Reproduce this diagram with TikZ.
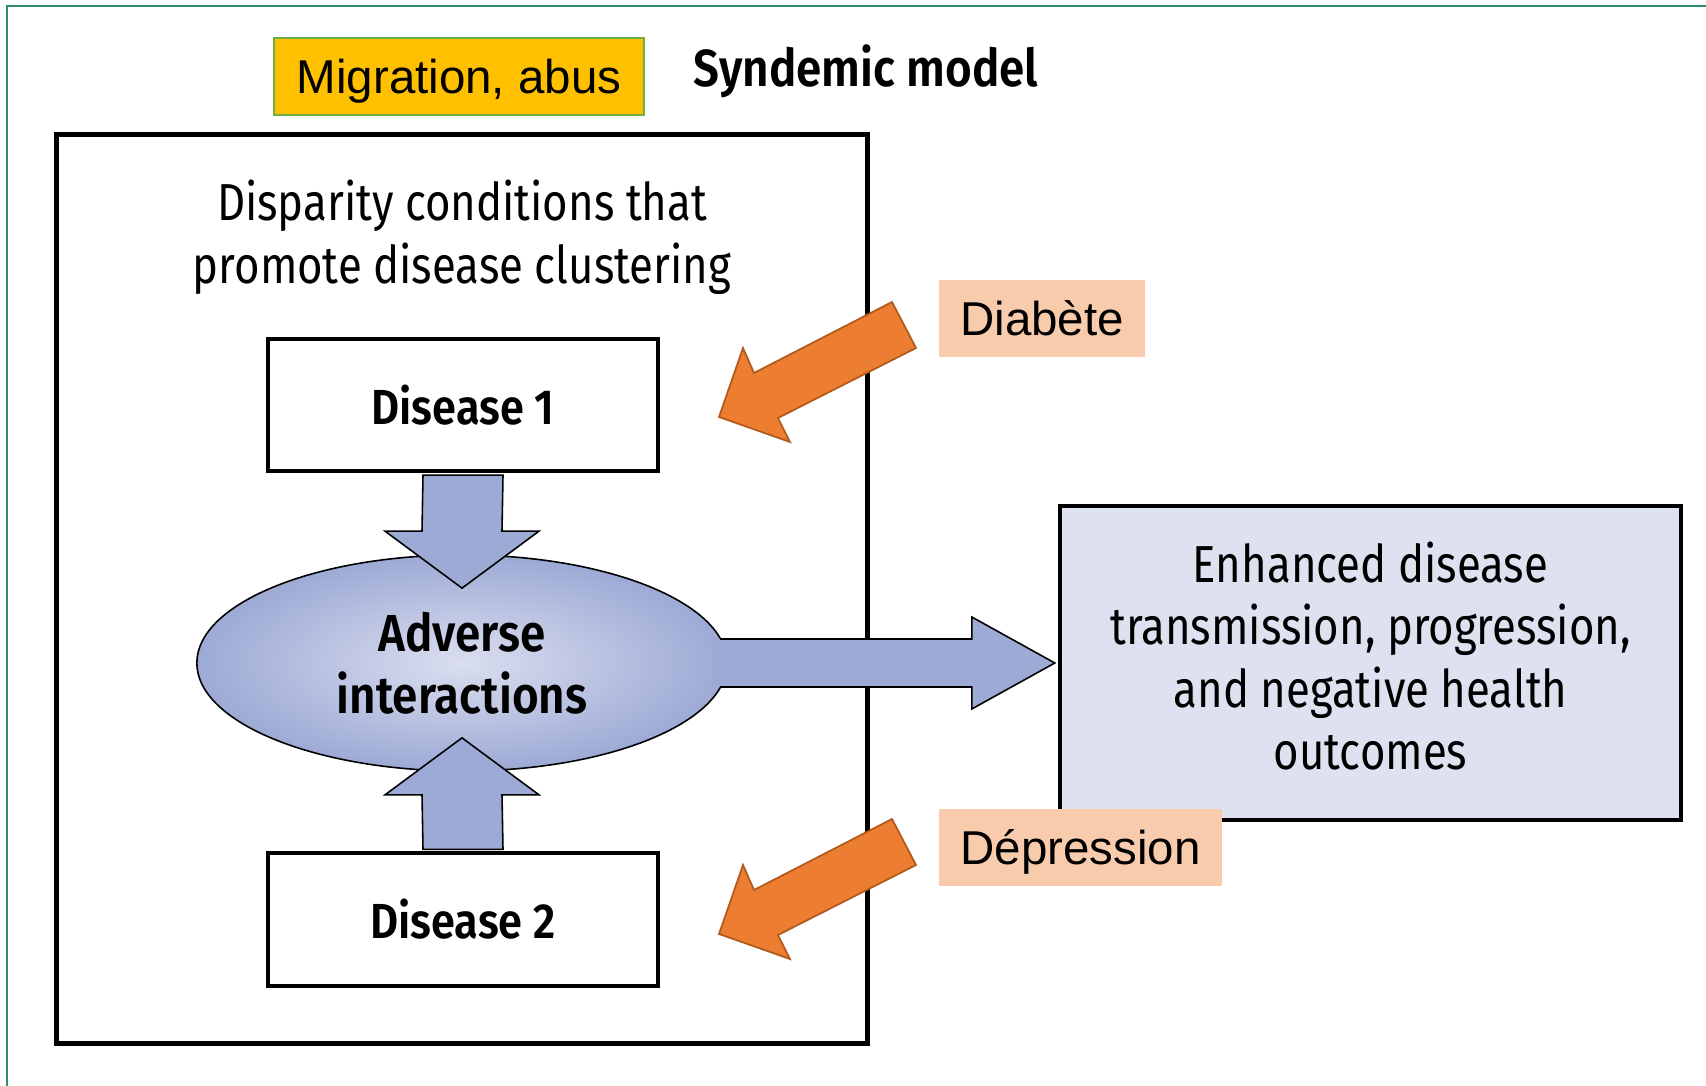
\documentclass[tikz,border=0pt]{standalone}
\usepackage{fontspec}
\usepackage{tikz}
\usetikzlibrary{shapes.geometric,calc}

\newfontfamily\lancet{Fira Sans}[FakeStretch=0.84]
\newfontfamily\lancetbold{Fira Sans SemiBold}[FakeStretch=0.88]
\newfontfamily\arialfont{Liberation Sans}

\definecolor{BlockBlue}{HTML}{9DAAD5}
\definecolor{LightBlue}{HTML}{DADEEF}
\definecolor{BoxBlue}{HTML}{DDE1F0}
\definecolor{Gold}{HTML}{FFC000}
\definecolor{LeafGreen}{HTML}{70AD47}
\definecolor{Peach}{HTML}{F8CBAD}
\definecolor{Carrot}{HTML}{ED7D31}
\definecolor{Rust}{HTML}{B15A1E}
\definecolor{SeaGreen}{HTML}{2E9068}

\tikzset{
	disbox/.style={draw, line width=1.15pt, fill=white, minimum width=3.9cm, minimum height=1.32cm, inner sep=0pt, font=\lancetbold\fontsize{14}{17}\selectfont},
	tag/.style={fill=Peach, minimum height=0.77cm, inner sep=0pt, text depth=0pt, font=\arialfont\fontsize{13.5}{16}\selectfont},
	blockarrow/.style={fill=BlockBlue, draw=black, line width=0.45pt, line join=miter},
	orangearrow/.style={fill=Carrot, draw=Rust, line width=0.5pt, line join=miter}
}

\begin{document}
\begin{tikzpicture}[x=0.01cm, y=-0.01cm]

\useasboundingbox (0,0) rectangle (1706,1086);
\fill[white] (0,0) rectangle (1706,1086);
\draw[SeaGreen, line width=0.6pt] (7,1086) -- (7,6) -- (1706,6);

\node[fill=Gold, draw=LeafGreen, line width=0.6pt, minimum width=3.7cm, minimum height=0.77cm, inner sep=0pt, text depth=0pt, font=\arialfont\fontsize{13.5}{16}\selectfont] (migr) at (459,76.5) {Migration, abus};
\node[font=\lancetbold\fontsize{14.8}{18}\selectfont] (title) at (866,71) {Syndemic model};

\node[draw, line width=1.3pt, minimum width=8.11cm, minimum height=9.08cm] (outer) at (462,589) {};
\node[align=center, inner sep=0pt, font=\lancet\fontsize{14.8}{17.9}\selectfont] (disp) at (462,237) {Disparity conditions that\\promote disease clustering};

\node[disbox] (d1) at (463,405) {Disease 1};
\node[disbox] (d2) at (463,919.5) {Disease 2};

\node[ellipse, draw, line width=0.45pt, inner color=LightBlue, outer color=BlockBlue, minimum width=5.3cm, minimum height=2.16cm, inner sep=0pt, align=center, font=\lancetbold\fontsize{14.8}{17.6}\selectfont] (adv) at (462,663) {Adverse\\interactions};

\node[draw, line width=1.15pt, fill=BoxBlue, minimum width=6.21cm, minimum height=3.13cm, inner sep=0pt] (enh) at (1370.5,663) {};
\node[align=center, inner sep=0pt, font=\lancet\fontsize{14.8}{17.8}\selectfont] (enhtext) at ($(enh.center)+(0,-7)$) {Enhanced disease\\transmission, progression,\\and negative health\\outcomes};

% blue block arrows
\filldraw[blockarrow] ($(d1.south)+(-40,2)$) -- ($(adv.north)+(-40,-23)$) -- ($(adv.north)+(-77,-23)$) -- ($(adv.north)+(0,34)$) -- ($(adv.north)+(77,-23)$) -- ($(adv.north)+(40,-23)$) -- ($(d1.south)+(40,2)$) -- cycle;
\filldraw[blockarrow] ($(d2.north)+(-40,-2)$) -- ($(adv.south)+(-40,23)$) -- ($(adv.south)+(-77,23)$) -- ($(adv.south)+(0,-34)$) -- ($(adv.south)+(77,23)$) -- ($(adv.south)+(40,23)$) -- ($(d2.north)+(40,-2)$) -- cycle;

\fill[BlockBlue] ($(adv.center)+(250,-24)$) -- ($(enh.west)+(-86,-24)$) -- ($(enh.west)+(-86,-46)$) -- ($(enh.west)+(-3,0)$) -- ($(enh.west)+(-86,46)$) -- ($(enh.west)+(-86,24)$) -- ($(adv.center)+(250,24)$) -- cycle;
\draw[blockarrow, fill=none] ($(adv.center)+(258,-24)$) -- ($(enh.west)+(-86,-24)$) -- ($(enh.west)+(-86,-46)$) -- ($(enh.west)+(-3,0)$) -- ($(enh.west)+(-86,46)$) -- ($(enh.west)+(-86,24)$) -- ($(adv.center)+(258,24)$);

% orange arrows
\foreach \dy in {0,517}
	\filldraw[orangearrow, shift={(0,\dy)}] (892,302) -- (916,348) -- (778,418) -- (790,442) -- (719,417) -- (743,348) -- (754,373) -- cycle;

\node[tag, minimum width=2.06cm] (diab) at (1042,318.5) {Diabète};
\node[tag, minimum width=2.83cm] (depr) at (1080.5,847.5) {Dépression};

\end{tikzpicture}
\end{document}
